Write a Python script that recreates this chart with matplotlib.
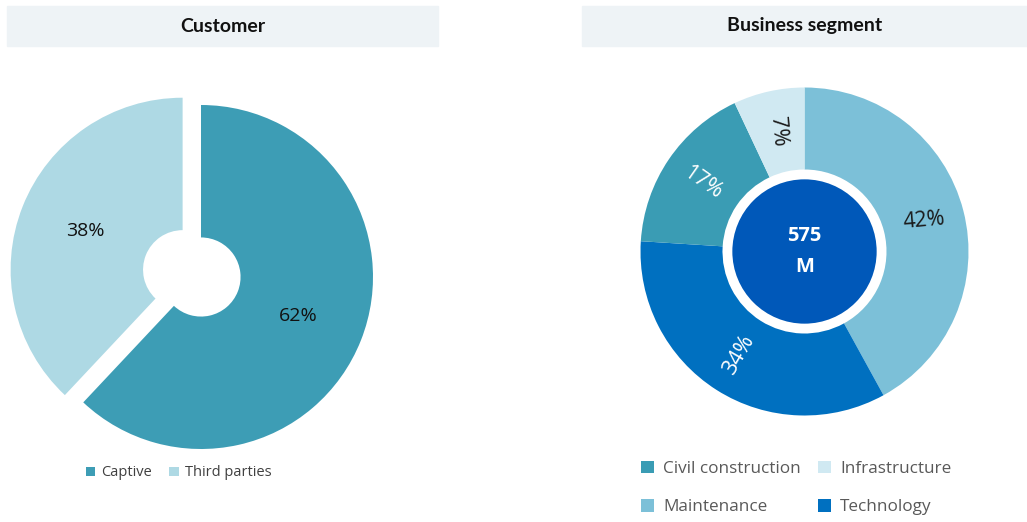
import matplotlib.pyplot as plt
from matplotlib.patches import Rectangle, Circle

plt.rcParams.update({
    "font.family": ["Open Sans", "DejaVu Sans"],
    "figure.dpi": 100,
})

# data
customer_labels = ["Captive", "Third parties"]
customer_values = [62, 38]

segment_labels = ["Maintenance", "Technology", "Civil construction", "Infrastructure"]
segment_values = [42, 34, 17, 7]
segment_total = "575\nM"

W, H = 1027, 522
fig = plt.figure(figsize=(W / 100, H / 100))


def px_axes(cx, cy, half):
    # square axes centred on pixel (cx, cy) measured from top-left
    return fig.add_axes([(cx - half) / W, (H - cy - half) / H, 2 * half / W, 2 * half / H])


# title bars
for x0, x1, title in [(7, 438, "Customer"), (582, 1027, "Business segment")]:
    fig.patches.append(Rectangle((x0 / W, 1 - 46 / H), (x1 - x0) / W, 40 / H,
                                 transform=fig.transFigure, color="#eef3f6", zorder=0))
    fig.text((x0 + x1) / 2 / W, 1 - 26 / H, title, ha="center", va="center",
             fontsize=14, fontweight="bold", family="Lato", color="#111111")

# left: customer pie
R1 = 172
lim1 = 1.3
ax1 = px_axes(201, 277, R1 * lim1)
cust_colors = ["#3d9db5", "#aed9e4"]
wedges1, _, autos1 = ax1.pie(customer_values, colors=cust_colors, startangle=90, counterclock=False,
                             explode=[0, 0.115], autopct="%d%%", pctdistance=0.61,
                             wedgeprops=dict(width=0.77, linewidth=0))
for t in autos1:
    t.set_fontsize(14)
    t.set_color("#111111")
ax1.set_xlim(-lim1, lim1)
ax1.set_ylim(-lim1, lim1)
ax1.set_aspect("equal")
ax1.axis("off")

fig.legend(wedges1, customer_labels, loc="center left", bbox_to_anchor=(80 / W, 1 - 473 / H),
           ncol=2, frameon=False, fontsize=10.5, handlelength=0.65, handleheight=0.65,
           handletextpad=0.4, columnspacing=1.2, labelcolor="#404040", borderaxespad=0)

# right: business segment donut
R2 = 164
lim2 = 1.1
ax2 = px_axes(804.5, 251.5, R2 * lim2)
seg_colors = ["#7cc0d8", "#0070c0", "#3a9cb4", "#d0e9f2"]
wedges2, _, autos2 = ax2.pie(segment_values, colors=seg_colors, startangle=90, counterclock=False,
                             autopct="%d%%", pctdistance=0.75,
                             wedgeprops=dict(width=0.5, linewidth=0))
label_rot = [5, 60, -35, -85]
label_col = ["#1a1a1a", "white", "white", "#1a1a1a"]
for t, rot, c in zip(autos2, label_rot, label_col):
    t.set_rotation(rot)
    t.set_color(c)
    t.set_fontsize(15.5)
ax2.add_patch(Circle((0, 0), 0.44, color="#0058b9", linewidth=0))
ax2.text(0, 0, segment_total, ha="center", va="center", color="white",
         fontsize=14.5, fontweight="bold", linespacing=1.75)
ax2.set_xlim(-lim2, lim2)
ax2.set_ylim(-lim2, lim2)
ax2.set_aspect("equal")
ax2.axis("off")

order = [2, 0, 3, 1]
fig.legend([wedges2[i] for i in order], [segment_labels[i] for i in order],
           loc="upper left", bbox_to_anchor=(634 / W, 1 - 454 / H), ncol=2, frameon=False,
           fontsize=12.3, handlelength=0.75, handleheight=0.75, handletextpad=0.55,
           columnspacing=1.0, labelspacing=1.3, labelcolor="#595959", borderaxespad=0)

fig.savefig("out.png", dpi=100)
